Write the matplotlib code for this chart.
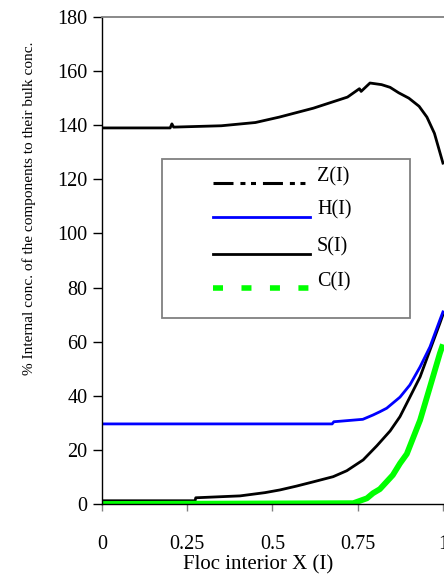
import matplotlib
matplotlib.use('Agg')
import matplotlib.pyplot as plt
from matplotlib.patches import Rectangle

plt.rcParams['font.family'] = ['Liberation Serif', 'DejaVu Serif']
plt.rcParams['lines.scale_dashes'] = False

# floc interior position and concentrations (% of bulk)
x_s = [0, 0.2, 0.205, 0.21, 0.35, 0.45, 0.52, 0.62, 0.72, 0.755, 0.76, 0.786, 0.82, 0.845,
       0.87, 0.9, 0.93, 0.953, 0.975, 1.0]
s_vals = [139, 139, 140.5, 139.3, 139.8, 141, 143, 146.3, 150.4, 153.5, 152.5, 155.6, 155, 154,
          152, 150, 147, 143, 137, 126]

x_z = [0, 0.273, 0.275, 0.405, 0.478, 0.522, 0.57, 0.62, 0.678, 0.718, 0.766, 0.806, 0.845,
       0.874, 0.903, 0.933, 0.962, 0.991, 1.0]
z_vals = [1.2, 1.2, 2.3, 3.0, 4.2, 5.2, 6.6, 8.2, 10.1, 12.3, 16.3, 21.5, 27, 32.3, 39.5, 47,
          56.9, 66.8, 70]

x_h = [0, 0.675, 0.68, 0.765, 0.795, 0.815, 0.835, 0.874, 0.903, 0.933, 0.962, 0.991, 1.0]
h_vals = [29.6, 29.6, 30.4, 31.3, 32.9, 34.1, 35.4, 39.5, 44, 50.7, 58.1, 68, 71]

x_c = [0, 0.737, 0.777, 0.795, 0.815, 0.853, 0.874, 0.894, 0.933, 0.962, 0.991, 1.0]
c_vals = [0, 0.3, 2.1, 4, 5.5, 10.7, 15, 18.5, 31, 43.3, 55.7, 59]

x_ticks = [0, 0.25, 0.5, 0.75, 1]
x_ticklabels = ['0', '0.25', '0.5', '0.75', '1']
y_ticks = list(range(0, 181, 20))

legend_labels = ['Z(I)', 'H(I)', 'S(I)', 'C(I)']

fig = plt.figure(figsize=(4.44, 5.75), dpi=100)
ax = fig.add_axes([102 / 444, 71 / 575, 358 / 444, 487 / 575])

ax.plot(x_z, z_vals, color='black', lw=2.0)
ax.plot(x_h, h_vals, color='#0000ff', lw=2.0)
ax.plot(x_s, s_vals, color='black', lw=2.0)
ax.plot(x_c, c_vals, color='#00ff00', lw=4.2, solid_capstyle='butt')

ax.set_xlim(0, 1.05)
ax.set_ylim(0, 180)

ax.spines['right'].set_visible(False)
ax.spines['top'].set_color('#808080')
ax.spines['top'].set_linewidth(1.3)
ax.spines['left'].set_linewidth(1.0)
ax.spines['bottom'].set_linewidth(1.0)

ax.set_xticks(x_ticks)
ax.set_xticklabels(x_ticklabels)
ax.set_yticks(y_ticks)
ax.tick_params(axis='x', direction='out', length=5, width=1, color='#808080', pad=17, labelsize=14.5)
ax.tick_params(axis='y', direction='out', length=6.5, width=1, color='black', pad=4, labelsize=14.5)

ax.set_xlabel('Floc interior X (I)', fontsize=15)
ax.xaxis.set_label_coords(0.436, -0.106)
ax.set_ylabel('% Internal conc. of the components to their bulk conc.', fontsize=11)
ax.yaxis.set_label_coords(-0.185, 0.607)

# legend drawn by hand (Excel style box)
tr = ax.transAxes
ax.add_patch(Rectangle((0.1676, 0.3819), 0.6927, 0.3265, transform=tr, facecolor='white',
                       edgecolor='#808080', lw=1.3, zorder=5))
hx = [0.310, 0.581]
rows = [(0.659, 0.6715), (0.589, 0.6037), (0.513, 0.5277), (0.4435, 0.4559)]
styles = [dict(color='black', lw=2.2, dashes=(14.4, 5, 3.6, 4, 3.6, 5)),
          dict(color='#0000ff', lw=2.0),
          dict(color='black', lw=2.0),
          dict(color='#00ff00', lw=4.0, dashes=(7.2, 13.3), dash_capstyle='butt')]
for (hy, ty), st, lab in zip(rows, styles, legend_labels):
    ax.plot(hx, [hy, hy], transform=tr, zorder=6, clip_on=False, **st)
    ax.text(0.6006, ty, lab, transform=tr, fontsize=14.5, va='center', ha='left', zorder=6)

plt.savefig('out.png', dpi=100)
